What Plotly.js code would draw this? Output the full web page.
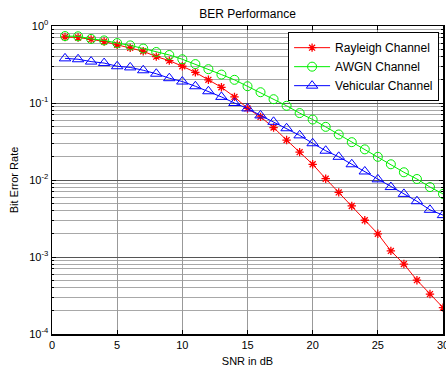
<!DOCTYPE html>
<html>
<head>
<meta charset="utf-8">
<script src="https://cdn.plot.ly/plotly-3.0.1.min.js"></script>
<style>html,body{margin:0;padding:0;background:#fff;}#chart{width:446px;height:369px;}</style>
</head>
<body>
<div id="chart"></div>
<script>
const snr = [1,2,3,4,5,6,7,8,9,10,11,12,13,14,15,16,17,18,19,20,21,22,23,24,25,26,27,28,29,30];
const rayleigh = [0.72,0.71,0.67,0.63,0.57,0.52,0.47,0.40,0.355,0.30,0.25,0.20,0.16,0.12,0.085,0.066,0.048,0.033,0.023,0.016,0.0104,0.0069,0.0046,0.0030,0.0020,0.0012,0.00081,0.00050,0.00033,0.00022];
const awgn = [0.74,0.735,0.68,0.65,0.60,0.56,0.51,0.46,0.42,0.37,0.32,0.275,0.234,0.20,0.165,0.138,0.112,0.092,0.074,0.061,0.049,0.039,0.031,0.025,0.020,0.016,0.0126,0.0103,0.0081,0.0066];
const vehicular = [0.38,0.37,0.345,0.33,0.30,0.29,0.266,0.24,0.21,0.19,0.165,0.142,0.12,0.10,0.085,0.069,0.057,0.047,0.038,0.030,0.024,0.020,0.016,0.0129,0.0102,0.0081,0.0066,0.0053,0.0041,0.0035];
const seriesNames = ["Rayleigh Channel","AWGN Channel","Vehicular Channel"];
const xTicks = [0,5,10,15,20,25,30];
const yTickVals = [1e-4,1e-3,1e-2,1e-1,1];
const yTickText = ["10<sup>-4</sup>","10<sup>-3</sup>","10<sup>-2</sup>","10<sup>-1</sup>","10<sup>0</sup>"];

const fam = "Liberation Sans, Arial, sans-serif";
const font = {family: fam, size: 11, color: "#000"};
const traces = [
  {x: snr, y: rayleigh, name: seriesNames[0], type: "scatter", mode: "lines+markers",
   line: {color: "#ff0000", width: 1}, marker: {symbol: "asterisk", size: 7, color: "#ff0000", line: {color: "#ff0000", width: 1.3}}},
  {x: snr, y: awgn, name: seriesNames[1], type: "scatter", mode: "lines+markers",
   line: {color: "#00ee00", width: 1}, marker: {symbol: "circle-open", size: 9, color: "#00ee00", line: {color: "#00ee00", width: 1}}},
  {x: snr, y: vehicular, name: seriesNames[2], type: "scatter", mode: "lines+markers",
   line: {color: "#0000ff", width: 1}, marker: {symbol: "triangle-up-open", size: 10, color: "#0000ff", line: {color: "#0000ff", width: 1}}}
];
const layout = {
  width: 446, height: 369,
  margin: {l: 52, r: 3, t: 26, b: 35},
  paper_bgcolor: "#fff", plot_bgcolor: "#fff",
  font: font,
  showlegend: true,
  title: {text: "BER Performance", font: {family: fam, size: 12, color: "#000"}, xref: "paper", x: 0.5, xanchor: "center", yref: "container", y: 0.974, yanchor: "top"},
  legend: {x: 0.99, y: 0.98, xanchor: "right", yanchor: "top", bgcolor: "#fff", bordercolor: "#000", borderwidth: 1,
           font: {family: fam, size: 12, color: "#000"}, tracegroupgap: 0, itemwidth: 36},
  xaxis: {range: [0, 30], tickvals: xTicks, ticktext: xTicks.map(String), showgrid: true, gridcolor: "#999", gridwidth: 1,
          zeroline: false, showline: true, linecolor: "#000", linewidth: 1.5, mirror: "ticks", ticks: "inside", ticklen: 4, tickcolor: "#000",
          ticklabeloverflow: "allow",
          title: {text: "SNR in dB", font: {family: fam, size: 11, color: "#000"}, standoff: 7}, tickfont: {family: fam, size: 11, color: "#000"}},
  yaxis: {type: "log", range: [-4, 0], tickvals: yTickVals, ticktext: yTickText, showgrid: true, gridcolor: "#555", gridwidth: 1,
          minor: {dtick: "D1", showgrid: true, gridcolor: "#a8a8a8", ticks: "inside", ticklen: 2, tickcolor: "#000"},
          zeroline: false, showline: true, linecolor: "#000", linewidth: 1.5, mirror: "ticks", ticks: "inside", ticklen: 4, tickcolor: "#000",
          ticklabeloverflow: "allow",
          title: {text: "Bit Error Rate", font: {family: fam, size: 11, color: "#000"}, standoff: 8}, tickfont: {family: fam, size: 11, color: "#000"}}
};
Plotly.newPlot("chart", traces, layout, {displayModeBar: false, staticPlot: true});
</script>
</body>
</html>
